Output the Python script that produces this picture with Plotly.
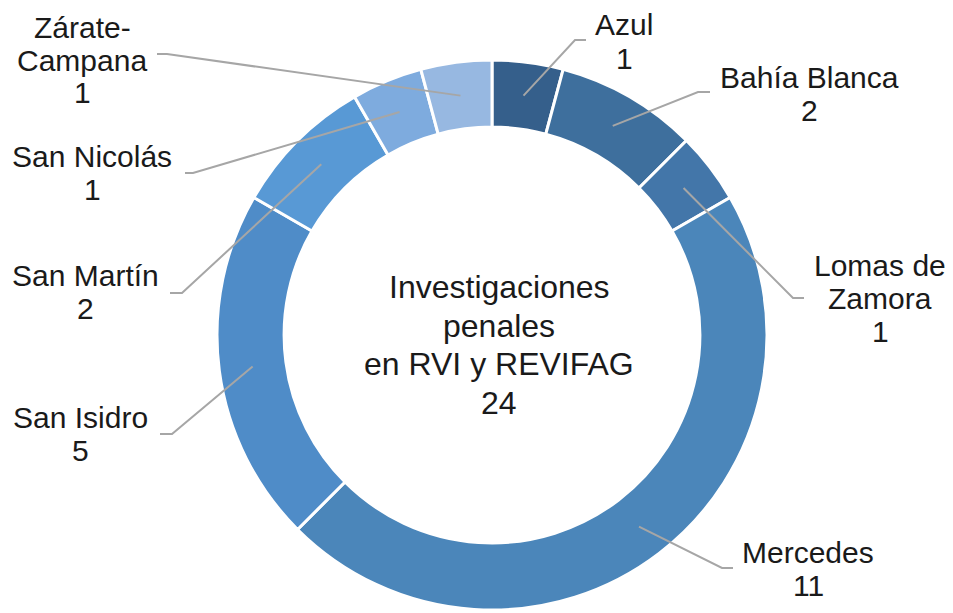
import math
import plotly.graph_objects as go

# ---- data ----
regions = ["Azul", "Bahía Blanca", "Lomas de Zamora", "Mercedes",
           "San Isidro", "San Martín", "San Nicolás", "Zárate-Campana"]
counts = [1, 2, 1, 11, 5, 2, 1, 1]
label_lines = [["Azul"], ["Bahía Blanca"], ["Lomas de", "Zamora"], ["Mercedes"],
               ["San Isidro"], ["San Martín"], ["San Nicolás"], ["Zárate-", "Campana"]]
center_title = ["Investigaciones", "penales", "en RVI y REVIFAG"]

colors = ["#355F8B", "#3E6F9D", "#4376A9", "#4B86BA",
          "#4F8CC8", "#5899D5", "#7EABDE", "#97B8E1"]

# ---- layout constants (pixels) ----
W, H = 953, 613
CX, CY = 492, 335
R_OUT = 275
HOLE = 0.756
R_MID = R_OUT * (1 + HOLE) / 2

# label placement: (elbow x, elbow y, end x, text center x, first line center y)
label_layout = [
    (575, 40, 586, 624, 25),
    (698, 92, 710, 809, 77),
    (793, 298, 804, 880, 265),
    (722, 568, 733, 808, 552),
    (172, 434, 160, 80, 417),
    (182, 293, 170, 85, 275),
    (193, 173, 185, 92, 157),
    (167, 54, 157, 82, 27),
]
LINE_STEP = 33

def px(x):
    return x / W

def py(y):
    return 1 - y / H

fig = go.Figure(go.Pie(
    labels=regions,
    values=counts,
    hole=HOLE,
    sort=False,
    direction="clockwise",
    rotation=0,
    textinfo="none",
    hoverinfo="label+value",
    marker=dict(colors=colors, line=dict(color="white", width=3)),
    domain=dict(x=[px(CX - R_OUT), px(CX + R_OUT)],
                y=[py(CY + R_OUT), py(CY - R_OUT)]),
    showlegend=False,
))

total = sum(counts)
shapes = []
annotations = []
cum = 0
for i, v in enumerate(counts):
    mid = (cum + v / 2) / total * 2 * math.pi
    cum += v
    ax = CX + R_MID * math.sin(mid)
    ay = CY - R_MID * math.cos(mid)
    ex, ey, endx, tx, ty = label_layout[i]
    path = f"M {px(ax)},{py(ay)} L {px(ex)},{py(ey)} L {px(endx)},{py(ey)}"
    shapes.append(dict(type="path", xref="paper", yref="paper", path=path,
                       line=dict(color="#A6A6A6", width=2)))
    lines = label_lines[i] + [str(v)]
    for j, t in enumerate(lines):
        annotations.append(dict(
            x=px(tx), y=py(ty + j * LINE_STEP), xref="paper", yref="paper",
            text=t, showarrow=False, xanchor="center", yanchor="middle",
            font=dict(family="Liberation Sans, Arial", size=30, color="#1A1A1A")))

# center text
center_lines = center_title + [str(total)]
for j, t in enumerate(center_lines):
    annotations.append(dict(
        x=px(499), y=py(287 + j * 38.5), xref="paper", yref="paper",
        text=t, showarrow=False, xanchor="center", yanchor="middle",
        font=dict(family="Liberation Sans, Arial", size=32, color="#1A1A1A")))

fig.update_layout(
    width=W, height=H,
    margin=dict(l=0, r=0, t=0, b=0),
    paper_bgcolor="white",
    plot_bgcolor="white",
    shapes=shapes,
    annotations=annotations,
)

fig.write_html("out.html", config={"displayModeBar": False},
               post_script="document.body.style.margin='0';")
